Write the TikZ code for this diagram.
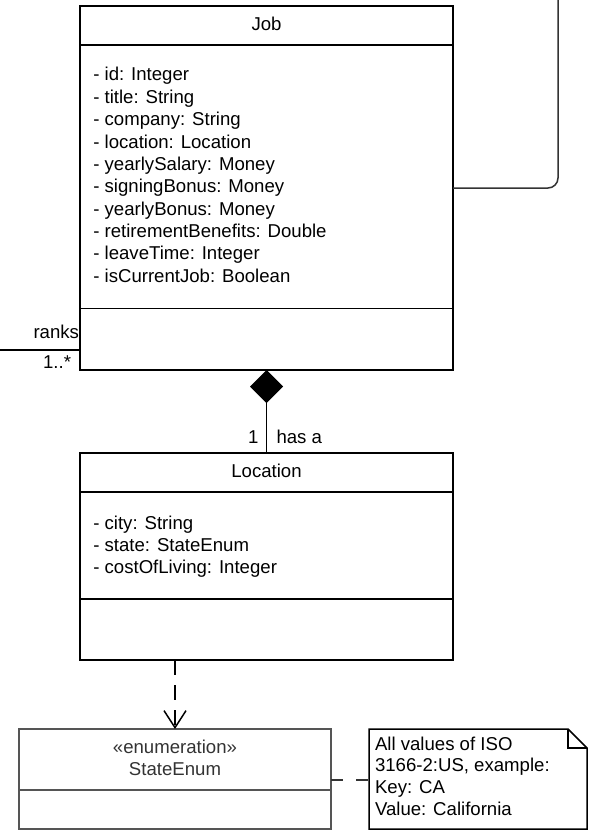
\documentclass[tikz,border=0pt]{standalone}
\usepackage{fontspec}
\setmainfont{Liberation Sans}
\usetikzlibrary{arrows.meta,calc}
\definecolor{conn}{HTML}{333333}
\definecolor{enumline}{HTML}{555555}
\definecolor{enumtext}{HTML}{333333}
\begin{document}
\begin{tikzpicture}[x=1pt,y=-1pt,
  box/.style={draw=black,line width=1.6pt,inner sep=0pt,outer sep=0pt,anchor=north west},
  sep/.style={draw=black,line width=1.6pt},
  txt/.style={inner sep=0pt,outer sep=0pt,font=\fontsize{18.6}{22.4}\selectfont},
  conn/.style={draw=conn,line width=1.5pt},
]
\useasboundingbox (0,0) rectangle (596,840);

% Job class
\node[box,minimum width=373pt,minimum height=364pt] (job) at (80,6) {};
\draw[sep] (80,45) -- (453,45);
\draw[sep] (80,308.5) -- (453,308.5);
\node[txt,anchor=base] (jobt) at (266.5,30.7) {Job};
\foreach \t [count=\i from 0] in {- id: Integer,- title: String,- company: String,- location: Location,- yearlySalary: Money,- signingBonus: Money,- yearlyBonus: Money,- retirementBenefits: Double,- leaveTime: Integer,- isCurrentJob: Boolean}{
  \node[txt,anchor=base west] (ja\i) at (93.3,81+22.35*\i) {\t};
}

% Location class
\node[box,minimum width=373pt,minimum height=207pt] (loc) at (80,453) {};
\draw[sep] (80,492) -- (453,492);
\draw[sep] (80,599) -- (453,599);
\node[txt,anchor=base] (loct) at (266.5,477.6) {Location};
\foreach \t [count=\i from 0] in {- city: String,- state: StateEnum,- costOfLiving: Integer}{
  \node[txt,anchor=base west] (la\i) at (93.3,529+22.35*\i) {\t};
}

% StateEnum
\node[box,draw=enumline,line width=1.3pt,minimum width=312pt,minimum height=100pt] (enum) at (19,729) {};
\draw[draw=enumline,line width=1.3pt] (19,790) -- (331,790);
\node[txt,anchor=base,text=enumtext] (enums) at (175,753) {«enumeration»};
\node[txt,anchor=base,text=enumtext] (enumn) at (175,775) {StateEnum};

% Note
\node[inner sep=0pt,outer sep=0pt,minimum width=218pt,minimum height=100pt,anchor=north west] (note) at (369,729) {};
\draw[line width=1.5pt,line join=miter]
  (note.north west) -- ($(note.north east)+(-19,0)$) -- ($(note.north east)+(0,19)$)
  -- (note.south east) -- (note.south west) -- cycle;
\draw[line width=1.3pt] ($(note.north east)+(-19,0)$) -- ($(note.north east)+(-19,19)$) -- ($(note.north east)+(0,19)$);
\foreach \t [count=\i from 0] in {All values of ISO,{3166-2:US, example:},Key: CA,Value: California}{
  \node[txt,anchor=base west] (nt\i) at (375,750+21.75*\i) {\t};
}

% Connectors
\coordinate (tr) at (558,-5);
\draw[conn,rounded corners=10pt] (job.east) -- (job.east -| tr) -- (tr);

\coordinate (rl) at (-5,350);
\draw[conn,draw=black] (rl) -- (rl -| job.west);
\node[txt,anchor=base east] (ranks) at (79,338) {ranks};
\node[txt,anchor=base east] (mult) at (71,368) {1..*};

\draw[line width=1.5pt,-{Diamond[length=33pt,width=33pt]}] (loc.north) -- (job.south);
\node[txt,anchor=base east] (one) at (258.5,443) {1};
\node[txt,anchor=base west] (hasa) at (276.5,443) {has a};

\draw[line width=1.5pt,dash pattern=on 15pt off 10pt,-{Straight Barb[length=17pt,width=22pt,line width=1.5pt]}]
  (loc.south -| enum.north) -- (enum.north);

\draw[conn,dash pattern=on 12pt off 13pt] (enum.east |- 0,780) -- (note.west |- 0,780);
\end{tikzpicture}
\end{document}
